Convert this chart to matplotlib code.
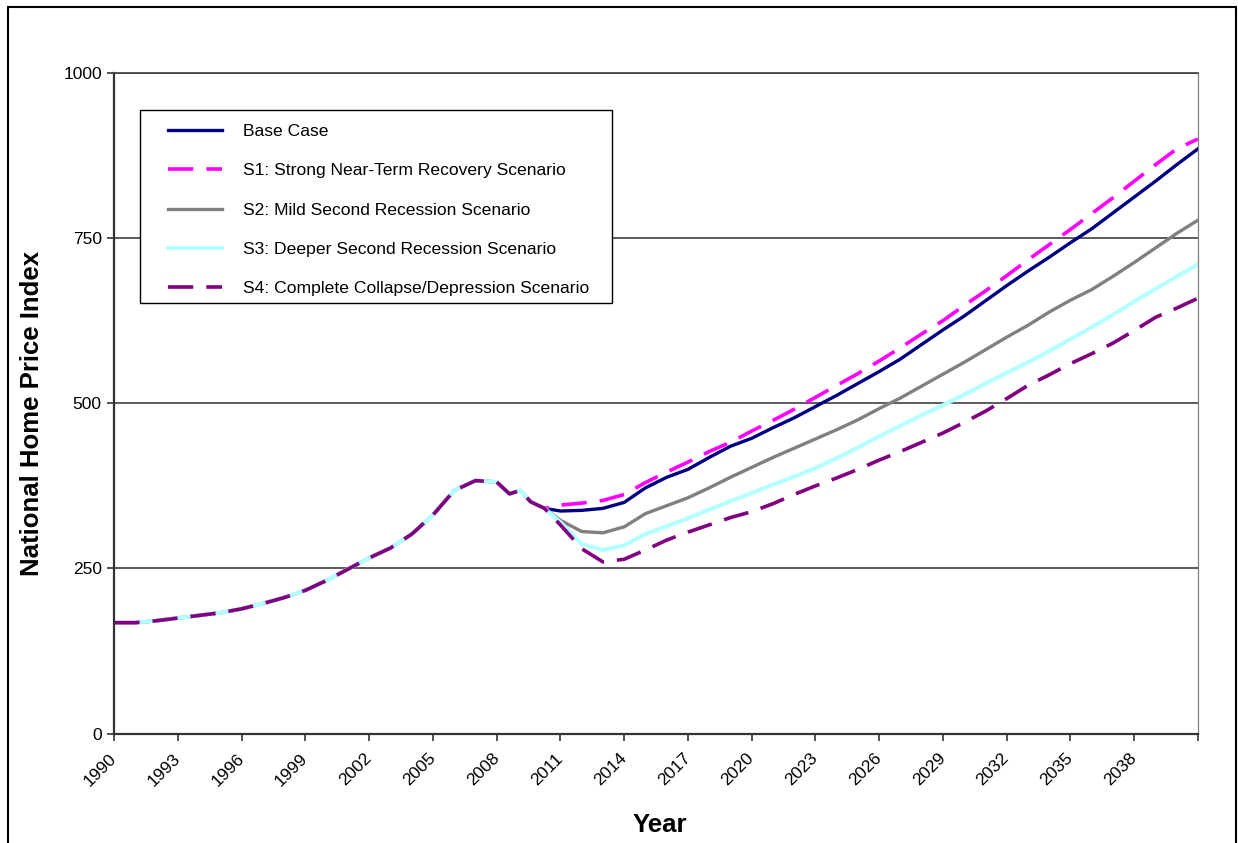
import matplotlib
matplotlib.use("Agg")
import matplotlib.pyplot as plt
from matplotlib.patches import Rectangle

plt.rcParams['font.family'] = ['Liberation Sans', 'DejaVu Sans']

# history shared by every scenario
hist_years = [1990, 1991, 1992, 1993, 1994, 1995, 1996, 1997, 1998, 1999,
              2000, 2001, 2002, 2003, 2004, 2005, 2006, 2007, 2008,
              2008.6, 2009.1, 2009.6, 2010.25]
hist_index = [168, 168, 171, 175, 179, 183, 189, 197, 206, 217,
              232, 249, 266, 281, 302, 331, 368, 383, 381,
              363, 368, 351, 341]

proj_years = list(range(2011, 2042))
base = [337, 338, 341, 350, 372, 388, 400, 418, 435, 447,
        463, 478, 495, 512, 530, 548, 567, 589, 611, 632,
        655, 678, 700, 721, 743, 764, 788, 812, 836, 861, 885]
s1 = [346, 349, 353, 362, 380, 396, 411, 427, 441, 458,
      474, 491, 509, 527, 545, 564, 584, 605, 625, 648,
      670, 693, 717, 740, 763, 787, 811, 836, 861, 885, 900]
s2 = [323, 306, 304, 313, 333, 345, 357, 372, 388, 403,
      418, 432, 446, 460, 475, 492, 508, 526, 544, 562,
      581, 600, 618, 638, 656, 672, 692, 713, 735, 757, 777]
s3 = [320, 287, 278, 285, 302, 314, 326, 339, 352, 364,
      377, 389, 402, 417, 433, 450, 466, 482, 497, 513,
      530, 546, 562, 579, 597, 615, 634, 654, 673, 692, 710]
s4 = [316, 280, 260, 264, 278, 293, 305, 316, 327, 336,
      348, 362, 375, 387, 400, 414, 427, 441, 455, 471,
      488, 507, 527, 543, 560, 575, 591, 610, 630, 644, 659]

labels = ['Base Case',
          'S1: Strong Near-Term Recovery Scenario',
          'S2: Mild Second Recession Scenario',
          'S3: Deeper Second Recession Scenario',
          'S4: Complete Collapse/Depression Scenario']

tick_years = list(range(1990, 2042, 3))
tick_labels = [str(y) for y in tick_years[:-1]] + ['']

fig = plt.figure(figsize=(12.38, 8.43), dpi=100)
ax = fig.add_axes([0.0923, 0.1297, 0.8752, 0.7837])

series = [base, s1, s2, s3, s4]
colors = ['#000080', '#ff00ff', '#808080', '#b4ffff', '#800080']
widths = [2.4, 2.6, 2.4, 3.0, 2.6]
dashed = [False, True, False, False, True]

for vals, c, lw, d, lab in zip(series, colors, widths, dashed, labels):
    xs = hist_years + proj_years
    ys = hist_index + vals
    if d:
        ax.plot(xs, ys, color=c, lw=lw, label=lab, dashes=(7, 3.6))
    else:
        ax.plot(xs, ys, color=c, lw=lw, label=lab)

ax.set_xlim(1990, 2041)
ax.set_ylim(0, 1000)
ax.set_yticks([0, 250, 500, 750, 1000])
ax.set_xticks(tick_years)
ax.set_xticklabels(tick_labels, rotation=45, ha='right', va='center',
                   rotation_mode='anchor')
ax.tick_params(axis='both', labelsize=12.5, direction='out', length=5,
               width=1.2, color='#333333')
ax.tick_params(axis='x', pad=11)
ax.tick_params(axis='y', pad=4)

ax.grid(axis='y', color='#404040', lw=1.2)
ax.set_axisbelow(True)
for side in ['left', 'bottom']:
    ax.spines[side].set_linewidth(1.6)
    ax.spines[side].set_color('#333333')
ax.spines['top'].set_linewidth(1.2)
ax.spines['top'].set_color('#404040')
ax.spines['right'].set_linewidth(0.9)
ax.spines['right'].set_color('#808080')

# legend box drawn separately so the entries can sit further in
ax.add_patch(Rectangle((0.0237, 0.652), 0.4357, 0.292, transform=ax.transAxes,
                       facecolor='white', edgecolor='black', lw=1.0,
                       zorder=4.9))
leg = ax.legend(loc='upper left', bbox_to_anchor=(0.0496, 0.9229),
                borderaxespad=0, fontsize=12.6, handlelength=3.1,
                handletextpad=1.2, labelspacing=1.37, borderpad=0,
                frameon=False)
leg.set_zorder(5)

fig.text(32 / 1238, 1 - 413 / 843, 'National Home Price Index', rotation=90,
         ha='center', va='center', fontsize=18.5, fontweight='bold')
fig.text(660 / 1238, 1 - 825 / 843, 'Year', ha='center', va='center',
         fontsize=18.5, fontweight='bold')

# outer chart frame
fig.patches.append(Rectangle((8 / 1238, -0.05), 1228 / 1238, 1.05 - 7 / 843,
                             transform=fig.transFigure, fill=False,
                             edgecolor='black', lw=1.5))

fig.savefig('out.png', dpi=100)
